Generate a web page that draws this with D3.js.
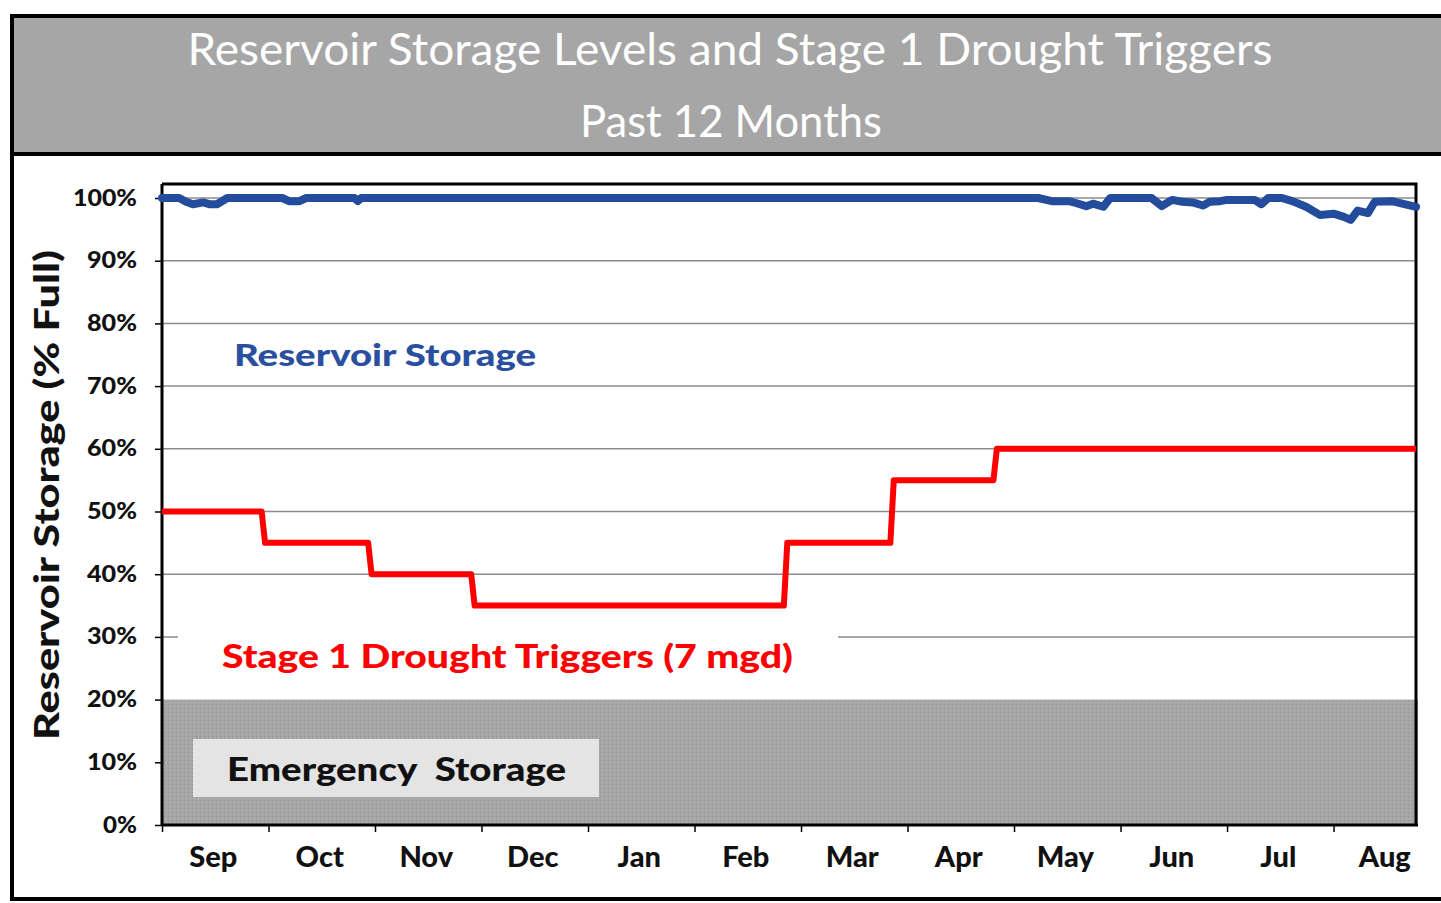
<!DOCTYPE html>
<html>
<head>
<meta charset="utf-8">
<script src="https://cdn.jsdelivr.net/npm/d3@7"></script>
<style>
  body { margin: 0; background: #fff; }
  text { font-family: Lato, "Open Sans", sans-serif; }
</style>
</head>
<body>
<div id="graph1"></div>
<script>
// reservoir storage vs stage 1 drought triggers, past 12 months (366 daily points, day 0 = Sep 1)
const months = ["Sep", "Oct", "Nov", "Dec", "Jan", "Feb", "Mar", "Apr", "May", "Jun", "Jul", "Aug"];
const monthTicks = [0, 31, 62, 93, 124, 155, 186, 217, 248, 279, 310, 341];
const yTicks = [0, 10, 20, 30, 40, 50, 60, 70, 80, 90, 100];

// drought trigger (% full) - step line, [day, value]
const triggerDays = [0, 29, 30, 60, 61, 90, 91, 181, 182, 212, 213, 242, 243, 365];
const triggerVals = [50, 50, 45, 45, 40, 40, 35, 35, 45, 45, 55, 55, 60, 60];

// reservoir storage (% full), [day, value]
const storageDays = [0, 5, 7, 9, 12, 14, 16, 19, 35, 37, 40, 42, 56, 57, 58, 255, 259, 264, 266, 269, 271, 274, 276,
    288, 291, 294, 297, 300, 303, 305, 308, 310, 318, 320, 322, 326, 329, 333, 337, 341, 344, 346, 348, 351, 353, 358, 361, 365];
const storageVals = [100, 100, 99.4, 99.0, 99.3, 99.0, 99.0, 100, 100, 99.5, 99.5, 100, 100, 99.5, 100, 100, 99.5, 99.5, 99.2, 98.7, 99.1, 98.6, 100,
    100, 98.7, 99.7, 99.4, 99.3, 98.8, 99.4, 99.5, 99.7, 99.7, 99.0, 100, 100, 99.5, 98.6, 97.3, 97.5, 97.0, 96.5, 98.0, 97.6, 99.4, 99.5, 99.1, 98.6];

const emergencyLevel = 20;

const width = 1441, height = 903;
const plot = { left: 162, right: 1416, top: 184, bottom: 825 };

let svg = d3.select("#graph1")
    .append("svg")
    .attr("width", width)
    .attr("height", height);

// stipple for the emergency band
let defs = svg.append("defs");
let pat = defs.append("pattern")
    .attr("id", "stipple")
    .attr("width", 4).attr("height", 4)
    .attr("patternUnits", "userSpaceOnUse");
pat.append("rect").attr("width", 4).attr("height", 4).attr("fill", "#a6a6a6");
pat.append("rect").attr("x", 0).attr("y", 0).attr("width", 1).attr("height", 1).attr("fill", "#8f8f8f");
pat.append("rect").attr("x", 2).attr("y", 2).attr("width", 1).attr("height", 1).attr("fill", "#b4b4b4");

// outer frame + title band
svg.append("rect")
    .attr("x", 12).attr("y", 16)
    .attr("width", 1440).attr("height", 883)
    .attr("fill", "#fff")
    .attr("stroke", "#000")
    .attr("stroke-width", 4);
svg.append("rect")
    .attr("x", 14).attr("y", 18)
    .attr("width", 1430).attr("height", 134)
    .attr("fill", "#a6a6a6");
svg.append("line")
    .attr("x1", 12).attr("x2", 1441)
    .attr("y1", 154).attr("y2", 154)
    .attr("stroke", "#000").attr("stroke-width", 4);

svg.append("text")
    .attr("x", 730).attr("y", 65)
    .attr("text-anchor", "middle")
    .attr("fill", "#fff")
    .style("font-size", "45px")
    .attr("textLength", 1085)
    .attr("lengthAdjust", "spacingAndGlyphs")
    .text("Reservoir Storage Levels and Stage 1 Drought Triggers");
svg.append("text")
    .attr("x", 731).attr("y", 137)
    .attr("text-anchor", "middle")
    .attr("fill", "#fff")
    .style("font-size", "45px")
    .attr("textLength", 302)
    .attr("lengthAdjust", "spacingAndGlyphs")
    .text("Past 12 Months");

let x = d3.scaleLinear()
    .domain([0, 365])
    .range([plot.left, plot.right]);
let y = d3.scaleLinear()
    .domain([0, 100])
    .range([plot.bottom, 198]);

// gridlines
svg.append("g")
    .selectAll("line")
    .data(yTicks.filter(d => d > emergencyLevel))
    .enter()
    .append("line")
    .attr("x1", plot.left).attr("x2", plot.right)
    .attr("y1", d => y(d)).attr("y2", d => y(d))
    .attr("stroke", "#8c8c8c")
    .attr("stroke-width", 1.5);

// emergency storage band
svg.append("rect")
    .attr("x", plot.left)
    .attr("y", y(emergencyLevel))
    .attr("width", plot.right - plot.left + 2)
    .attr("height", y(0) - y(emergencyLevel))
    .attr("fill", "url(#stipple)");

svg.append("rect")
    .attr("x", 193).attr("y", 739)
    .attr("width", 406).attr("height", 58)
    .attr("fill", "#e4e4e4");
svg.append("text")
    .attr("x", 227).attr("y", 781)
    .style("font-size", "33px")
    .style("font-weight", "900")
    .attr("textLength", 339)
    .attr("lengthAdjust", "spacingAndGlyphs")
    .attr("fill", "#111")
    .text("Emergency\u00a0\u00a0Storage");

// plot frame (top + right)
svg.append("path")
    .attr("d", `M${plot.left},${plot.top}H${plot.right}V${plot.bottom}`)
    .attr("fill", "none")
    .attr("stroke", "#000")
    .attr("stroke-width", 3);

// axes
let yAxis = svg.append("g")
    .attr("transform", `translate(${plot.left}, 0)`)
    .call(d3.axisLeft(y).tickValues(yTicks).tickSize(7).tickPadding(18).tickFormat(d => d + "%"));
yAxis.select(".domain")
    .attr("d", `M0,${plot.top}V${plot.bottom}`)
    .attr("stroke-width", 3);
yAxis.selectAll(".tick line").attr("stroke-width", 1.5);
yAxis.selectAll(".tick text")
    .style("font-size", "22px")
    .style("font-weight", "900")
    .style("font-family", "Lato, sans-serif")
    .attr("fill", "#111")
    .attr("textLength", d => d === 100 ? 64 : d === 0 ? 34 : 50)
    .attr("lengthAdjust", "spacingAndGlyphs");

let xAxis = svg.append("g")
    .attr("transform", `translate(0, ${plot.bottom})`)
    .call(d3.axisBottom(x).tickValues(monthTicks).tickSize(7).tickFormat(""));
xAxis.select(".domain")
    .attr("d", `M${plot.left},0H${plot.right + 2}`)
    .attr("stroke-width", 3);
xAxis.selectAll(".tick line").attr("stroke-width", 1.5);

svg.append("g")
    .selectAll("text")
    .data(months)
    .enter()
    .append("text")
    .attr("x", (d, i) => x(monthTicks[i] + 15.5) - 2)
    .attr("y", 867)
    .attr("text-anchor", "middle")
    .style("font-size", "29px")
    .style("font-weight", "900")
    .attr("fill", "#111")
    .text(d => d);

// y axis title
svg.append("text")
    .attr("transform", `translate(59, 495) rotate(-90)`)
    .attr("text-anchor", "middle")
    .style("font-size", "34px")
    .style("font-weight", "900")
    .attr("fill", "#111")
    .attr("textLength", 490)
    .attr("lengthAdjust", "spacingAndGlyphs")
    .text("Reservoir Storage (% Full)");

// series labels
svg.append("rect")
    .attr("x", 178).attr("y", 622)
    .attr("width", 660).attr("height", 66)
    .attr("fill", "#fff");
svg.append("text")
    .attr("x", 222).attr("y", 668)
    .style("font-size", "33px")
    .style("font-weight", "900")
    .attr("fill", "#ff0000")
    .attr("textLength", 571)
    .attr("lengthAdjust", "spacingAndGlyphs")
    .text("Stage 1 Drought Triggers (7 mgd)");
svg.append("text")
    .attr("x", 234).attr("y", 366)
    .style("font-size", "31px")
    .style("font-weight", "900")
    .attr("fill", "#2a4f9e")
    .attr("textLength", 302)
    .attr("lengthAdjust", "spacingAndGlyphs")
    .text("Reservoir Storage");

// lines
let line = d3.line()
    .x(d => x(d[0]))
    .y(d => y(d[1]));

svg.append("path")
    .datum(triggerDays.map((d, i) => [d, triggerVals[i]]))
    .attr("d", line)
    .attr("fill", "none")
    .attr("stroke", "#ff0000")
    .attr("stroke-width", 6)
    .attr("stroke-linejoin", "round");

svg.append("path")
    .datum(storageDays.map((d, i) => [d, storageVals[i]]))
    .attr("d", line)
    .attr("fill", "none")
    .attr("stroke", "#234d9c")
    .attr("stroke-width", 8)
    .attr("stroke-linejoin", "round")
    .attr("stroke-linecap", "round");
</script>
</body>
</html>
